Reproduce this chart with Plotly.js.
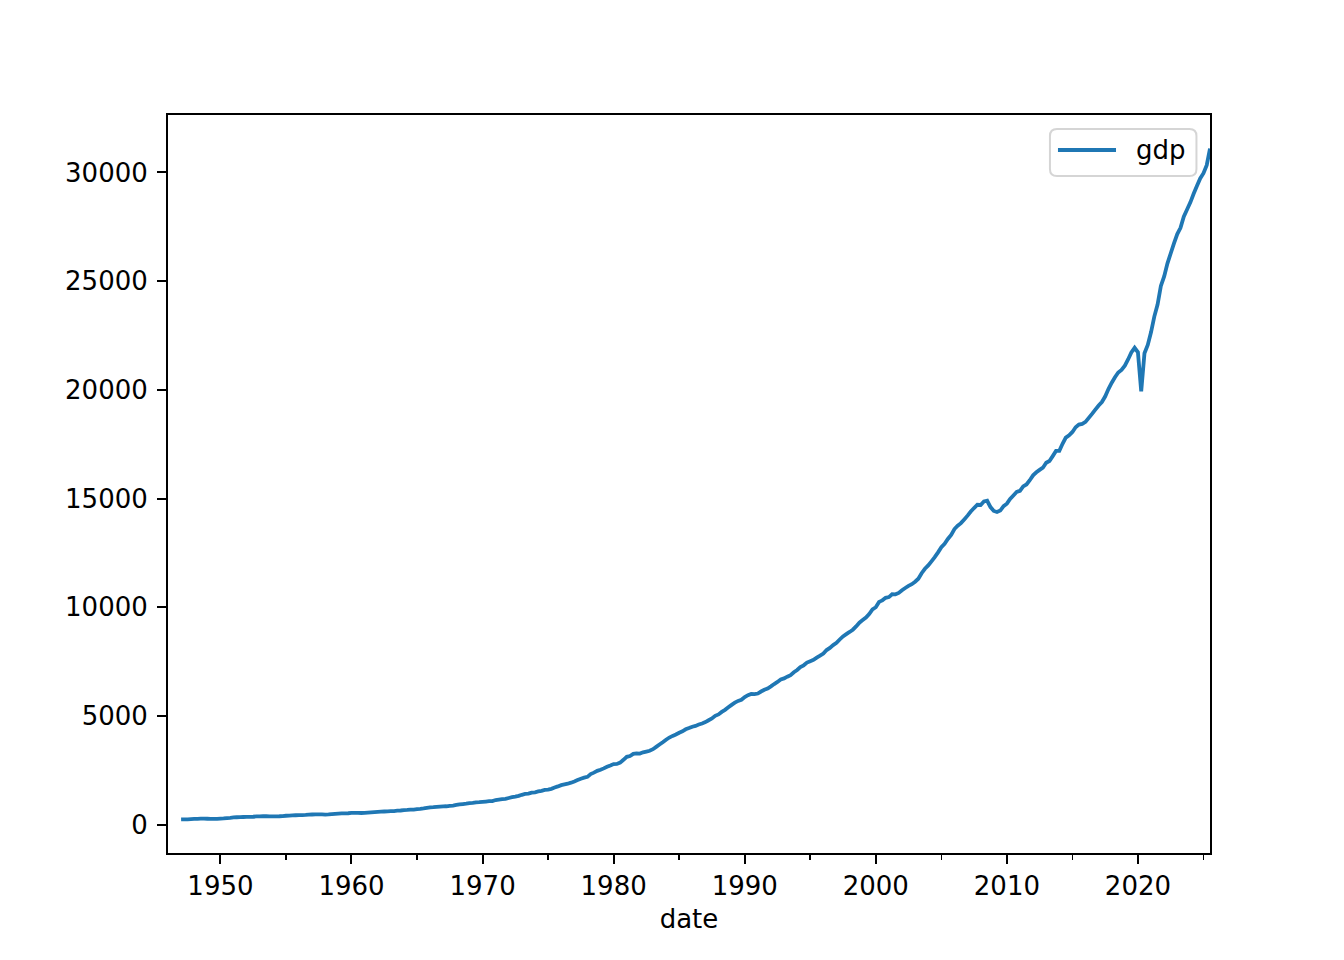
<!DOCTYPE html>
<html>
<head>
<meta charset="utf-8">
<script src="https://cdn.plot.ly/plotly-3.0.1.min.js"></script>
<style>html,body{margin:0;padding:0;background:#fff;}#chart{width:1344px;height:960px;}</style>
</head>
<body>
<div id="chart"></div>
<script>
// Quarterly GDP, first quarter 1947Q1
const firstYear = 1947;
const seriesName = "gdp";
const xTitle = "date";
const gdp = [
 243.2, 246.0, 249.6, 259.7,
 265.7, 272.6, 279.2, 280.4,
 275.0, 271.4, 272.9, 270.6,
 280.8, 290.4, 308.2, 319.9,
 336.0, 344.1, 351.4, 356.2,
 359.8, 361.0, 367.7, 380.8,
 388.0, 391.7, 391.2, 386.0,
 385.3, 386.1, 391.0, 399.7,
 413.1, 421.5, 430.2, 437.1,
 439.7, 446.0, 451.2, 460.5,
 469.8, 472.0, 479.5, 474.9,
 467.5, 472.0, 485.8, 499.6,
 510.3, 522.7, 525.0, 528.6,
 542.6, 541.1, 545.6, 540.2,
 545.0, 555.5, 567.7, 580.6,
 594.0, 600.4, 609.0, 612.3,
 621.7, 629.8, 644.4, 653.9,
 669.8, 678.7, 692.0, 697.3,
 717.8, 730.2, 749.3, 771.9,
 795.7, 805.0, 819.6, 833.3,
 844.2, 849.0, 865.2, 881.4,
 909.4, 934.3, 950.8, 968.0,
 993.3, 1009.0, 1030.0, 1038.1,
 1051.2, 1067.4, 1086.1, 1088.6,
 1135.2, 1156.3, 1177.7, 1190.3,
 1230.6, 1266.4, 1290.6, 1328.9,
 1377.5, 1413.9, 1433.8, 1476.3,
 1491.2, 1530.1, 1560.0, 1599.7,
 1616.1, 1651.9, 1709.8, 1761.8,
 1820.5, 1852.3, 1886.6, 1934.3,
 1988.6, 2055.9, 2118.5, 2164.3,
 2202.8, 2331.6, 2395.1, 2476.9,
 2526.6, 2591.2, 2667.6, 2723.9,
 2789.8, 2797.4, 2856.5, 2985.6,
 3124.2, 3162.5, 3260.6, 3280.8,
 3274.3, 3332.0, 3366.3, 3402.6,
 3473.4, 3578.8, 3689.2, 3794.7,
 3908.1, 4009.6, 4084.3, 4148.6,
 4230.2, 4294.9, 4386.8, 4444.1,
 4507.9, 4545.3, 4607.7, 4657.6,
 4722.2, 4806.2, 4884.6, 5008.0,
 5073.4, 5190.0, 5282.8, 5399.5,
 5511.3, 5612.5, 5695.4, 5747.2,
 5872.7, 5960.0, 6015.1, 6004.7,
 6035.2, 6126.9, 6205.9, 6264.5,
 6363.1, 6470.8, 6566.6, 6680.8,
 6729.5, 6808.9, 6882.1, 7013.7,
 7115.7, 7246.9, 7331.1, 7455.3,
 7522.3, 7581.0, 7683.1, 7772.6,
 7868.5, 8032.8, 8131.4, 8259.8,
 8362.7, 8518.8, 8662.8, 8765.9,
 8866.5, 8969.7, 9121.1, 9294.0,
 9411.7, 9526.2, 9686.6, 9900.2,
 10002.2, 10247.7, 10318.2, 10435.7,
 10470.2, 10599.0, 10598.0, 10660.5,
 10783.5, 10887.5, 10984.0, 11061.4,
 11174.1, 11312.8, 11566.7, 11772.2,
 11923.4, 12112.8, 12305.3, 12527.2,
 12767.3, 12922.7, 13142.6, 13324.2,
 13599.2, 13753.4, 13870.2, 14039.6,
 14215.7, 14402.1, 14564.1, 14715.1,
 14706.5, 14865.7, 14899.0, 14608.2,
 14430.9, 14381.2, 14448.9, 14651.0,
 14764.6, 14980.2, 15141.6, 15309.5,
 15351.4, 15557.5, 15647.7, 15842.3,
 16068.8, 16207.1, 16319.5, 16420.4,
 16648.2, 16728.7, 16953.8, 17192.0,
 17197.7, 17518.5, 17804.2, 17912.1,
 18063.5, 18279.8, 18401.6, 18435.1,
 18525.9, 18711.7, 18892.6, 19089.4,
 19280.1, 19438.6, 19692.6, 20037.1,
 20328.6, 20580.9, 20798.7, 20917.9,
 21111.6, 21397.9, 21717.2, 21933.2,
 21727.7, 19935.4, 21684.6, 22068.8,
 22656.8, 23368.9, 23922.0, 24777.0,
 25215.5, 25805.8, 26272.0, 26734.3,
 27164.4, 27453.8, 27967.7, 28297.0,
 28624.1, 29016.7, 29374.9, 29723.9,
 29962.0, 30331.1, 31095.1
];
const yTicks = [0, 5000, 10000, 15000, 20000, 25000, 30000];
const yTickText = ["0", "5000", "10000", "15000", "20000", "25000", "30000"];

// quarterly period start dates for the index
const dates = gdp.map((v, i) => {
  const y = firstYear + Math.floor(i / 4);
  const m = (i % 4) * 3 + 1;
  return y + "-" + String(m).padStart(2, "0") + "-01";
});

const font = "DejaVu Sans, sans-serif";
const FS = 26;
const lineColor = "#1f77b4";
const trace = {
  x: dates, y: gdp, type: "scatter", mode: "lines", name: seriesName,
  line: {color: lineColor, width: 3.8, simplify: false}, showlegend: false
};

// legend box (matplotlib style, rounded) in paper coordinates
const L = {x0: 0.8464, x1: 0.9870, y0: 0.9173, y1: 0.9810};
const rx = 7 / 1042, ry = 7 / 738;
const legendPath =
  `M ${L.x0 + rx} ${L.y0} L ${L.x1 - rx} ${L.y0} Q ${L.x1} ${L.y0} ${L.x1} ${L.y0 + ry} ` +
  `L ${L.x1} ${L.y1 - ry} Q ${L.x1} ${L.y1} ${L.x1 - rx} ${L.y1} ` +
  `L ${L.x0 + rx} ${L.y1} Q ${L.x0} ${L.y1} ${L.x0} ${L.y1 - ry} ` +
  `L ${L.x0} ${L.y0 + ry} Q ${L.x0} ${L.y0} ${L.x0 + rx} ${L.y0} Z`;

const layout = {
  width: 1344, height: 960,
  margin: {l: 168, r: 134, t: 115, b: 107, pad: 0},
  paper_bgcolor: "#fff", plot_bgcolor: "#fff",
  font: {family: font, size: FS, color: "#000"},
  showlegend: false,
  shapes: [
    {type: "path", xref: "paper", yref: "paper", path: legendPath,
     fillcolor: "rgba(255,255,255,0.8)", line: {color: "#d5d5d5", width: 2}},
    {type: "line", xref: "paper", yref: "paper", x0: 0.8541, x1: 0.9098, y0: 0.9526, y1: 0.9526,
     line: {color: lineColor, width: 3.8}}
  ],
  annotations: [
    {xref: "paper", yref: "paper", x: 0.9275, y: 0.9526, xanchor: "left", yanchor: "middle",
     text: seriesName, showarrow: false, font: {family: font, size: FS, color: "#000"}}
  ],
  xaxis: {
    type: "date",
    range: ["1946-01-01", "2025-07-01"],
    tickmode: "linear", tick0: "1950-01-01", dtick: "M120", tickformat: "%Y",
    ticks: "outside", ticklen: 9, tickwidth: 2, tickcolor: "#000",
    ticklabelstandoff: 0,
    minor: {dtick: "M60", tick0: "1950-01-01", ticks: "outside", ticklen: 5, tickwidth: 1.6, tickcolor: "#000", showgrid: false},
    showline: true, linecolor: "#000", linewidth: 2, mirror: true,
    showgrid: false, zeroline: false,
    tickfont: {family: font, size: FS, color: "#000"},
    title: {text: xTitle, font: {family: font, size: FS, color: "#000"}, standoff: 10}
  },
  yaxis: {
    range: [-1300, 32640],
    tickmode: "array", tickvals: yTicks, ticktext: yTickText,
    ticks: "outside", ticklen: 9, tickwidth: 2, tickcolor: "#000",
    ticklabelstandoff: 4,
    showline: true, linecolor: "#000", linewidth: 2, mirror: true,
    showgrid: false, zeroline: false,
    tickfont: {family: font, size: FS, color: "#000"}
  }
};
Plotly.newPlot("chart", [trace], layout, {displayModeBar: false, staticPlot: true});
</script>
</body>
</html>
